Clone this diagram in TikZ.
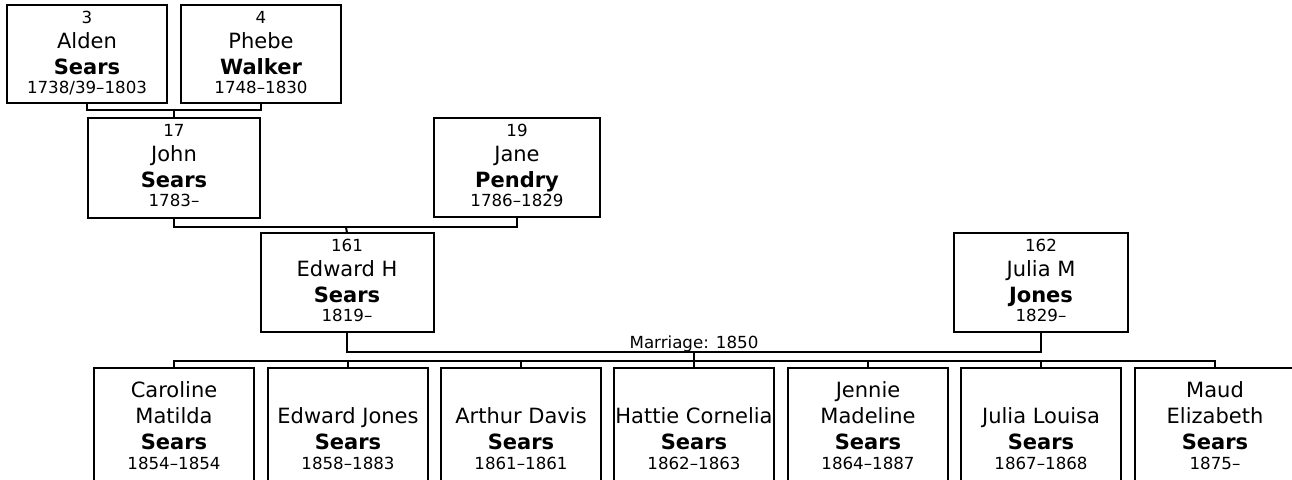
\documentclass[tikz,border=0pt]{standalone}
\usepackage{fontspec}
\setmainfont{DejaVu Sans}
\usetikzlibrary{calc}
\tikzset{
  pb/.style={draw=black, line width=1.5pt, inner sep=0pt, outer sep=0pt, fill=white},
  big/.style={font=\fontsize{15.75}{18}\selectfont, anchor=base, inner sep=0pt},
  bigb/.style={font=\fontsize{15.75}{18}\selectfont\bfseries, anchor=base, inner sep=0pt},
  sml/.style={font=\fontsize{12.5}{14}\selectfont, anchor=base, inner sep=0pt},
  conn/.style={draw=black, line width=1.5pt},
}
% name, cx, top, width, height, number, first, last, dates
\newcommand\parentperson[9]{%
  \node[pb, anchor=north, minimum width={#4*0.75pt}, minimum height={#5*0.75pt}] (#1) at (#2,#3) {};
  \node[sml] at (#2,{#3+18}) {#6};
  \node[big] at (#2,{#3+43}) {#7};
  \node[bigb] at (#2,{#3+69}) {#8};
  \node[sml] at (#2,{#3+88}) {#9};
}
% name, cx, first line, second line, last, dates
\newcommand\childperson[6]{%
  \node[pb, anchor=north, minimum width={160*0.75pt}, minimum height={118*0.75pt}] (#1) at (#2,368) {};
  \node[big] at (#2,397) {#3};
  \node[big] at (#2,423) {#4};
  \node[bigb] at (#2,449) {#5};
  \node[sml] at (#2,469) {#6};
}
\begin{document}
\begin{tikzpicture}[x=0.75pt, y=-0.75pt]
\useasboundingbox (0,0) rectangle (1292,479);
\clip (0,0) rectangle (1292,479);

\parentperson{alden}{87}{5}{160}{98}{3}{Alden}{Sears}{1738/39--1803}
\parentperson{phebe}{261}{5}{160}{98}{4}{Phebe}{Walker}{1748--1830}
\parentperson{john}{174}{118}{172}{100}{17}{John}{Sears}{1783--}
\parentperson{jane}{517}{118}{166}{99}{19}{Jane}{Pendry}{1786--1829}
\parentperson{edward}{347}{233}{173}{99}{161}{Edward H}{Sears}{1819--}
\parentperson{julia}{1041}{233}{174}{99}{162}{Julia M}{Jones}{1829--}

\childperson{c1}{174}{Caroline}{Matilda}{Sears}{1854--1854}
\childperson{c2}{348}{}{Edward Jones}{Sears}{1858--1883}
\childperson{c3}{521}{}{Arthur Davis}{Sears}{1861--1861}
\childperson{c4}{694}{}{Hattie Cornelia}{Sears}{1862--1863}
\childperson{c5}{868}{Jennie}{Madeline}{Sears}{1864--1887}
\childperson{c6}{1041}{}{Julia Louisa}{Sears}{1867--1868}
\childperson{c7}{1215}{Maud}{Elizabeth}{Sears}{1875--}

\draw[conn] (alden.south) -- ++(0,7) -| (phebe.south);
\coordinate (m1) at (174,110);
\draw[conn] (m1) -- (john.north);

\draw[conn] (john.south) -- ++(0,9) -| (jane.south);
\coordinate (m2) at (346,227);
\draw[conn] (m2) -- (edward.north);

\draw[conn] (edward.south) -- ++(0,20) -| (julia.south);
\node[sml] (mlabel) at (694,348) {Marriage: 1850};
\coordinate (m3) at (694,352);
\coordinate (bus) at (694,361);
\draw[conn] (m3) -- (bus);

\draw[conn] (c1.north) -- ++(0,-7) -| (c7.north);
\foreach \c in {c2,c3,c4,c5,c6} {\draw[conn] (\c.north) -- ++(0,-7);}
\end{tikzpicture}
\end{document}
